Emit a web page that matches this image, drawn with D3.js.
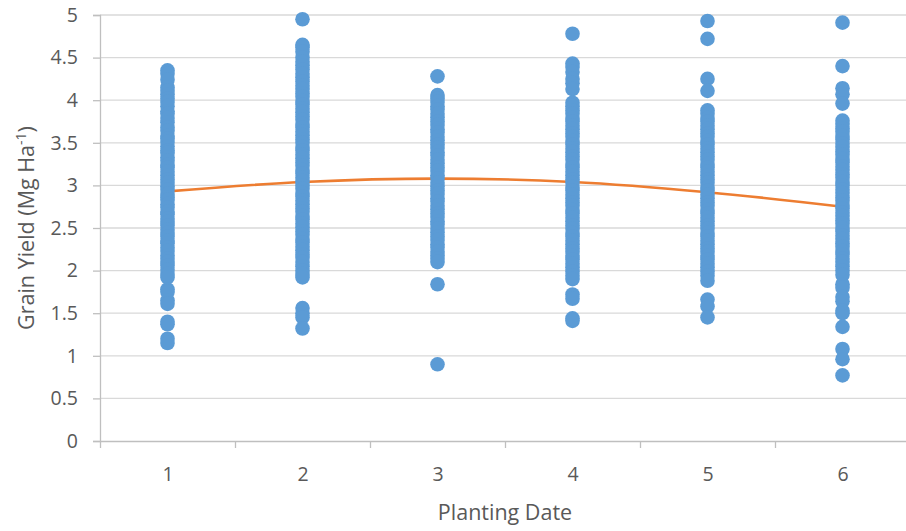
<!DOCTYPE html>
<html>
<head>
<meta charset="utf-8">
<script src="https://cdn.jsdelivr.net/npm/d3@7"></script>
<style>
  body { margin: 0; background: #fff; overflow: hidden; }
  svg { display: block; }
  svg text { font-family: "Open Sans", sans-serif; fill: #595959; }
</style>
</head>
<body>
<div id="chart"></div>
<script>
// planting dates on the x axis
const plantingDates = [1, 2, 3, 4, 5, 6];

// grain yield (Mg/ha) for each planting date
const yieldDate1 = [4.35, 4.31, 4.24, 4.15, 4.11, 4.07, 4.02, 3.98, 3.93, 3.87, 3.84, 3.79, 3.74, 3.68, 3.64, 3.58, 3.55, 3.51, 3.46, 3.41, 3.38, 3.33, 3.29, 3.24, 3.21, 3.16, 3.12, 3.07, 3.03, 2.99, 2.95, 2.9, 2.86, 2.83, 2.78, 2.74, 2.69, 2.66, 2.61, 2.57, 2.53, 2.48, 2.44, 2.4, 2.35, 2.32, 2.27, 2.23, 2.18, 2.14, 2.1, 2.06, 2.01, 1.96, 1.92, 1.78, 1.75, 1.65, 1.61, 1.4, 1.37, 1.2, 1.15];
const yieldDate2 = [4.95, 4.65, 4.62, 4.57, 4.5, 4.45, 4.41, 4.36, 4.31, 4.27, 4.22, 4.17, 4.13, 4.08, 4.04, 3.99, 3.95, 3.9, 3.86, 3.81, 3.77, 3.72, 3.68, 3.63, 3.59, 3.54, 3.5, 3.45, 3.41, 3.36, 3.32, 3.27, 3.23, 3.18, 3.14, 3.09, 3.05, 3.0, 2.96, 2.91, 2.87, 2.82, 2.78, 2.73, 2.69, 2.64, 2.6, 2.55, 2.51, 2.46, 2.42, 2.37, 2.33, 2.28, 2.24, 2.19, 2.15, 2.1, 2.05, 2.0, 1.96, 1.92, 1.56, 1.5, 1.45, 1.32];
const yieldDate3 = [4.28, 4.06, 4.02, 3.98, 3.93, 3.89, 3.84, 3.8, 3.75, 3.71, 3.66, 3.62, 3.57, 3.53, 3.48, 3.44, 3.39, 3.35, 3.3, 3.26, 3.21, 3.17, 3.12, 3.08, 3.03, 2.99, 2.94, 2.9, 2.85, 2.81, 2.76, 2.72, 2.67, 2.63, 2.58, 2.54, 2.49, 2.45, 2.4, 2.36, 2.31, 2.27, 2.22, 2.18, 2.14, 2.1, 1.84, 0.9];
const yieldDate4 = [4.78, 4.43, 4.39, 4.33, 4.25, 4.2, 4.13, 3.97, 3.93, 3.88, 3.84, 3.79, 3.75, 3.7, 3.66, 3.61, 3.57, 3.52, 3.48, 3.43, 3.39, 3.34, 3.3, 3.25, 3.21, 3.16, 3.12, 3.07, 3.03, 2.98, 2.94, 2.89, 2.85, 2.8, 2.76, 2.71, 2.67, 2.62, 2.58, 2.53, 2.49, 2.44, 2.4, 2.35, 2.31, 2.26, 2.22, 2.17, 2.13, 2.08, 2.04, 1.99, 1.94, 1.9, 1.72, 1.67, 1.44, 1.41];
const yieldDate5 = [4.93, 4.72, 4.25, 4.11, 3.88, 3.84, 3.79, 3.75, 3.7, 3.66, 3.61, 3.57, 3.52, 3.48, 3.43, 3.39, 3.34, 3.3, 3.25, 3.21, 3.16, 3.12, 3.07, 3.03, 2.98, 2.94, 2.89, 2.85, 2.8, 2.76, 2.71, 2.67, 2.62, 2.58, 2.53, 2.49, 2.44, 2.4, 2.35, 2.31, 2.26, 2.22, 2.17, 2.13, 2.08, 2.04, 1.99, 1.94, 1.88, 1.66, 1.58, 1.45];
const yieldDate6 = [4.91, 4.4, 4.14, 4.07, 3.96, 3.76, 3.72, 3.67, 3.63, 3.58, 3.54, 3.49, 3.45, 3.4, 3.36, 3.31, 3.27, 3.22, 3.18, 3.13, 3.09, 3.04, 3.0, 2.95, 2.91, 2.86, 2.82, 2.77, 2.73, 2.68, 2.64, 2.59, 2.55, 2.5, 2.46, 2.41, 2.37, 2.32, 2.28, 2.23, 2.19, 2.14, 2.1, 2.05, 2.0, 1.95, 1.84, 1.8, 1.69, 1.64, 1.53, 1.5, 1.34, 1.08, 0.96, 0.77];

// trend line value at each planting date
const trendValues = [2.93, 3.04, 3.08, 3.04, 2.92, 2.75];

// axis tick labels
const yTicks = [0, 0.5, 1, 1.5, 2, 2.5, 3, 3.5, 4, 4.5, 5];
const yTickLabels = ["0", "0.5", "1", "1.5", "2", "2.5", "3", "3.5", "4", "4.5", "5"];
const xTickLabels = ["1", "2", "3", "4", "5", "6"];

const width = 906, height = 531;
const margin = { top: 15, right: 0, bottom: 90, left: 100 };
const innerWidth = width - margin.left - margin.right;
const innerHeight = height - margin.top - margin.bottom;
const plotRight = 910 - margin.left; // category axis runs a little past the window edge

const svg = d3.select('#chart')
    .append('svg')
    .attr('width', width)
    .attr('height', height);

const g = svg.append('g')
    .attr('transform', `translate(${margin.left}, ${margin.top})`);

const scaleX = d3.scaleLinear()
    .domain([0.5, 6.5])
    .range([0, plotRight]);

const scaleY = d3.scaleLinear()
    .domain([0, 5])
    .range([innerHeight, 0]);

// gridlines
g.append('g')
    .selectAll('line')
    .data(yTicks.filter(d => d > 0))
    .enter().append('line')
    .attr('x1', 0)
    .attr('x2', innerWidth)
    .attr('y1', d => scaleY(d))
    .attr('y2', d => scaleY(d))
    .attr('stroke', '#d9d9d9')
    .attr('stroke-width', 1.3);

// y axis
const axisY = g.append('g')
    .attr('class', 'axis-y')
    .call(d3.axisLeft(scaleY)
        .tickValues(yTicks)
        .tickFormat((d, i) => yTickLabels[i])
        .tickSize(7)
        .tickPadding(15))
    .attr('font-family', null)
    .attr('font-size', 19.5);
axisY.selectAll('line, path').attr('stroke', '#bfbfbf').attr('stroke-width', 1.3);

// x axis: tick marks between categories, labels on categories
const axisX = g.append('g')
    .attr('class', 'axis-x')
    .attr('transform', `translate(0, ${innerHeight})`)
    .call(d3.axisBottom(scaleX)
        .tickValues(d3.range(0.5, 6.5, 1))
        .tickSize(7)
        .tickSizeOuter(0));
axisX.selectAll('text').remove();
axisX.selectAll('line, path').attr('stroke', '#bfbfbf').attr('stroke-width', 1.3);

const labelsX = g.append('g')
    .attr('transform', `translate(0, ${innerHeight})`)
    .call(d3.axisBottom(scaleX)
        .tickValues(plantingDates)
        .tickFormat((d, i) => xTickLabels[i])
        .tickSize(0)
        .tickPadding(26))
    .attr('font-family', null)
    .attr('font-size', 19.5);
labelsX.select('.domain').remove();

// trend line (under the markers)
const trendLine = d3.line()
    .x((d, i) => scaleX(plantingDates[i]))
    .y(d => scaleY(d))
    .curve(d3.curveMonotoneX);

g.append('path')
    .datum(trendValues)
    .attr('fill', 'none')
    .attr('stroke', '#ed7d31')
    .attr('stroke-width', 2.6)
    .attr('d', trendLine);

// scatter markers
const yieldSeries = [yieldDate1, yieldDate2, yieldDate3, yieldDate4, yieldDate5, yieldDate6];
const points = [];
yieldSeries.forEach((values, i) => {
    values.forEach(v => points.push({ date: plantingDates[i], value: v }));
});

g.selectAll('.point')
    .data(points)
    .enter().append('circle')
    .attr('class', 'point')
    .attr('cx', d => scaleX(d.date))
    .attr('cy', d => scaleY(d.value))
    .attr('r', 7.3)
    .attr('fill', '#5b9bd5');

// axis titles
svg.append('text')
    .attr('x', margin.left + scaleX(3.5))
    .attr('y', 520)
    .attr('text-anchor', 'middle')
    .attr('font-size', 21.5)
    .text('Planting Date');

const titleY = svg.append('text')
    .attr('transform', 'translate(34, 228) rotate(-90)')
    .attr('text-anchor', 'middle')
    .attr('font-size', 21.5);
titleY.append('tspan').text('Grain Yield (Mg Ha');
titleY.append('tspan').attr('dy', -8).attr('font-size', 14).text('-1');
titleY.append('tspan').attr('dy', 8).text(')');
</script>
</body>
</html>
